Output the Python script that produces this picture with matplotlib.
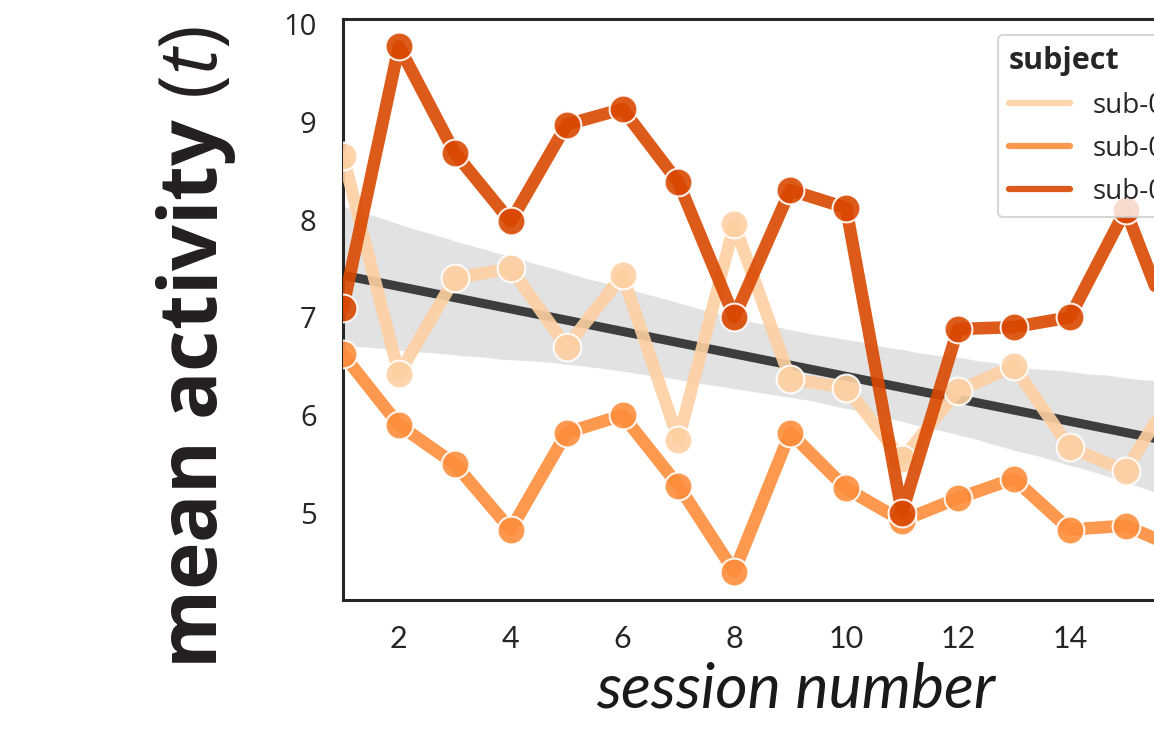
import matplotlib
matplotlib.use("Agg")
import matplotlib.pyplot as plt
from matplotlib.lines import Line2D
import seaborn as sns
import numpy as np

# values (session 16 is only partly visible)
sessions = list(range(1, 17))
sub_1 = [8.65, 6.42, 7.40, 7.50, 6.70, 7.43, 5.75, 7.95, 6.37, 6.28, 5.55, 6.25, 6.50, 5.67, 5.43, 6.37]
sub_2 = [6.62, 5.90, 5.50, 4.83, 5.82, 6.00, 5.28, 4.40, 5.82, 5.25, 4.92, 5.15, 5.35, 4.83, 4.87, 4.62]
sub_3 = [7.10, 9.77, 8.68, 7.98, 8.97, 9.13, 8.38, 7.00, 8.30, 8.12, 5.00, 6.88, 6.90, 7.00, 8.10, 6.62]
subjects = ["sub-01", "sub-02", "sub-03"]
colors = ["#fdd0a2", "#fd8d3c", "#d94801"]

sns.set_style("white")
plt.rcParams['font.family'] = ['Open Sans', 'DejaVu Sans']
plt.rcParams['mathtext.fontset'] = 'custom'
plt.rcParams['mathtext.rm'] = 'Open Sans'
plt.rcParams['mathtext.it'] = 'Open Sans:italic'

fig = plt.figure(figsize=(11.54, 7.34), dpi=100)
# axes runs past the right edge of the figure, as in the reference crop
ax = fig.add_axes([343 / 1154, 1 - 600 / 734, 838.5 / 1154, 581 / 734])
ax.set_xlim(1, 16)
ax.set_ylim(4.11, 10.05)

# pooled regression with bootstrap band
all_x = np.tile(sessions, 3)
all_y = np.concatenate([sub_1, sub_2, sub_3])
sns.regplot(x=all_x, y=all_y, scatter=False, truncate=False, ax=ax,
            color="#080808", seed=0,
            line_kws=dict(color="#3d3d3d", lw=6.5, zorder=2))

for vals, c in zip([sub_1, sub_2, sub_3], colors):
    ax.plot(sessions, vals, color=c, lw=9, alpha=0.9, marker='o', ms=20,
            mec='white', mew=1.5, zorder=3, solid_capstyle='round')

ax.set_xlim(1, 16)
ax.set_ylim(4.11, 10.05)
ax.set_xticks(range(2, 17, 2))
ax.set_yticks(range(5, 11))
ax.tick_params(length=0)
ax.tick_params(axis='y', labelsize=21, pad=19, labelcolor='#262626')
ax.tick_params(axis='x', pad=18, labelcolor='#262626')
for lab in ax.get_xticklabels():
    lab.set_fontfamily('Lato')
    lab.set_fontsize(22)

for sp in ax.spines.values():
    sp.set_color('#262626')
    sp.set_linewidth(2.2)

ax.set_xlabel("session number", family='Lato', style='italic',
              fontsize=45, color='#1a1a1a')
ax.xaxis.set_label_coords(0.54, -0.105)
ax.set_ylabel("mean activity $(t)$", fontsize=58, fontweight='bold', color='#231f20')
ax.yaxis.set_label_coords(-0.125, 0.435)

handles = [Line2D([], [], color=c, lw=4.5, alpha=0.9) for c in colors]
leg = ax.legend(handles, subjects, title="subject", loc='upper left',
                bbox_to_anchor=(0.781, 0.972), borderaxespad=0, fontsize=20,
                title_fontproperties={'weight': 'bold', 'size': 22},
                labelspacing=0.55, handlelength=2.2, frameon=True)
leg._legend_box.align = "left"
leg.get_frame().set_edgecolor('#cccccc')
leg.get_frame().set_linewidth(1.5)

fig.savefig("out.png", dpi=100)
